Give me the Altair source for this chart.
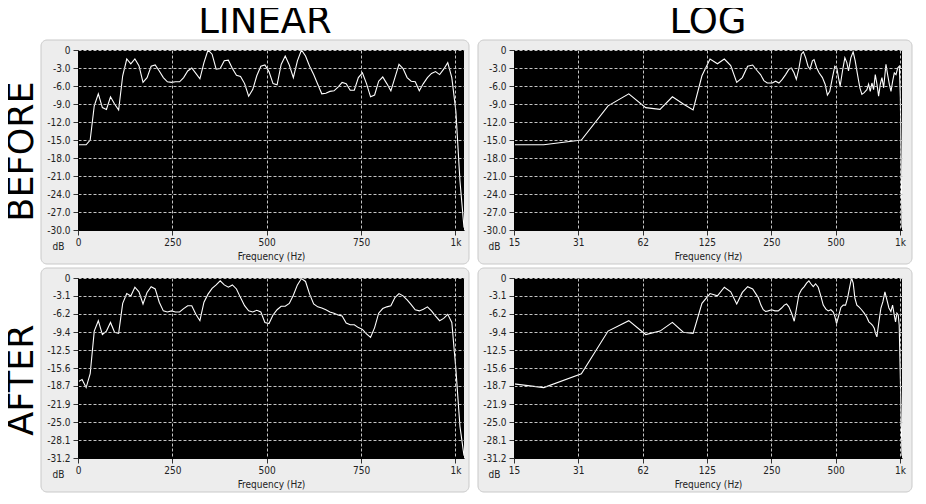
import altair as alt
import pandas as pd

# FFT bin centre frequencies (Hz)
freq_hz = [0, 10.77, 21.53, 32.30, 43.07, 53.83, 64.60, 75.37, 86.13, 96.90,
           107.67, 118.43, 129.20, 139.97, 150.73, 161.50, 172.27, 183.03, 193.80, 204.57,
           215.33, 226.10, 236.87, 247.63, 258.40, 269.17, 279.93, 290.70, 301.47, 312.23,
           323.00, 333.77, 344.53, 355.30, 366.07, 376.83, 387.60, 398.37, 409.13, 419.90,
           430.67, 441.43, 452.20, 462.97, 473.73, 484.50, 495.27, 506.03, 516.80, 527.57,
           538.33, 549.10, 559.87, 570.63, 581.40, 592.17, 602.93, 613.70, 624.47, 635.23,
           646.00, 656.77, 667.53, 678.30, 689.07, 699.83, 710.60, 721.37, 732.13, 742.90,
           753.67, 764.43, 775.20, 785.97, 796.73, 807.50, 818.27, 829.03, 839.80, 850.57,
           861.33, 872.10, 882.87, 893.63, 904.40, 915.17, 925.93, 936.70, 947.47, 958.23,
           969.00, 979.77, 990.53, 1001.30, 1012.07, 1022.83]

before_db = [-15.8, -15.8, -15.8, -15.0, -9.3, -7.3, -9.6, -9.9, -7.8, -9.0,
             -10.0, -4.3, -1.5, -2.3, -1.5, -2.6, -5.4, -4.6, -2.7, -2.5,
             -3.5, -4.6, -5.3, -5.4, -5.3, -5.3, -4.6, -3.5, -3.0, -3.9,
             -4.8, -2.1, 0.0, -0.7, -3.2, -3.1, -1.8, -1.7, -3.1, -4.2,
             -4.4, -5.6, -7.7, -6.6, -4.3, -2.7, -2.5, -3.6, -5.6, -5.8,
             -2.4, -1.0, -2.5, -4.6, -1.8, 0.0, -1.0, -2.7, -4.1, -5.7,
             -7.3, -7.2, -6.9, -6.8, -6.2, -5.4, -5.6, -6.7, -6.7, -4.6,
             -3.8, -5.6, -7.8, -7.5, -5.2, -4.5, -5.6, -6.8, -4.6, -2.4,
             -3.1, -4.6, -5.2, -5.3, -6.8, -5.6, -4.6, -3.9, -3.6, -4.1,
             -3.2, -2.1, -4.6, -10.2, -21.8, -29.6]

after_db = [-18.0, -17.6, -19.0, -16.6, -9.2, -7.4, -9.8, -9.2, -7.7, -9.4,
            -9.6, -4.4, -2.7, -3.1, -1.6, -2.4, -4.5, -2.5, -1.5, -1.9,
            -4.2, -5.7, -5.9, -5.7, -5.9, -5.9, -5.3, -4.8, -4.8, -6.3,
            -7.4, -4.2, -2.8, -1.8, -1.2, -0.5, -1.2, -1.6, -1.2, -1.9,
            -3.4, -4.8, -5.7, -5.9, -5.6, -5.9, -7.7, -7.9, -6.4, -5.5,
            -4.9, -4.9, -4.4, -3.0, -1.2, -0.1, -0.6, -2.8, -4.5, -5.0,
            -5.2, -5.5, -5.9, -6.1, -6.4, -6.6, -7.8, -8.1, -8.1, -8.6,
            -8.9, -9.7, -10.3, -8.6, -6.1, -5.3, -5.0, -4.8, -3.4, -2.7,
            -3.1, -3.8, -4.6, -5.5, -5.7, -5.4, -5.0, -5.7, -6.6, -7.4,
            -7.0, -6.3, -7.7, -15.8, -25.7, -30.8]

# finer-resolution trace shown in the LOG panels above ~220 Hz
log_hi_freq_before = [222.7, 230.8, 239.4, 252.7, 261.9, 271.5, 281.4, 291.8, 302.5, 310.3,
                      319.4, 327.5, 337.0, 345.8, 353.3, 362.3, 371.4, 379.7, 389.4, 396.4,
                      408.0, 418.4, 433.8, 446.6, 457.8, 469.7, 483.3, 495.8, 506.6, 515.8,
                      525.2, 538.6, 552.5, 564.5, 574.7, 589.2, 604.2, 617.7, 633.3, 649.7,
                      663.9, 680.6, 700.6, 713.4, 726.4, 739.7, 753.1, 766.9, 780.8, 795.0,
                      809.5, 824.2, 839.2, 860.5, 876.1, 892.0, 908.3, 924.8, 941.6, 958.8,
                      976.1, 993.9, 1004.8, 1022.83]
log_hi_db_before = [-4.1, -5.1, -5.5, -5.5, -5.2, -5.5, -4.9, -4.1, -3.2, -3.0,
                    -3.8, -4.9, -3.0, -0.7, -0.3, -1.3, -2.7, -3.2, -1.8, -1.6,
                    -3.0, -3.8, -4.6, -5.7, -7.5, -6.9, -4.6, -2.7, -3.0, -4.6,
                    -6.0, -3.5, -1.3, -2.1, -3.5, -1.3, -0.3, -1.8, -4.1, -6.3,
                    -7.4, -7.1, -6.6, -5.7, -6.9, -5.5, -6.6, -4.1, -5.7, -7.7,
                    -5.7, -4.6, -6.3, -2.4, -4.1, -5.7, -6.9, -5.2, -3.8, -4.1,
                    -3.0, -2.7, -7.9, -29.6]
log_hi_freq_after = [217.3, 223.6, 229.3, 235.2, 242.0, 250.8, 260.0, 269.5, 279.4, 287.5,
                     294.8, 302.3, 311.2, 320.2, 328.3, 336.7, 346.5, 356.7, 365.8, 375.0,
                     383.2, 393.0, 403.0, 414.7, 426.9, 437.7, 450.5, 462.0, 475.3, 487.7,
                     496.4, 505.2, 518.3, 529.5, 542.9, 556.7, 568.8, 581.1, 593.8, 604.5,
                     615.6, 628.9, 642.8, 661.6, 680.6, 698.3, 715.9, 731.6, 744.8, 758.4,
                     769.1, 780.3, 797.3, 815.0, 832.7, 850.8, 869.4, 888.3, 907.5, 924.1,
                     940.8, 954.1, 968.0, 982.0, 992.5, 1022.83]
log_hi_db_after = [-3.4, -4.7, -5.5, -5.8, -5.7, -5.5, -5.7, -5.7, -5.2, -4.7,
                   -4.5, -5.0, -6.1, -7.5, -5.2, -2.9, -2.0, -1.5, -0.9, -0.5,
                   -1.0, -1.5, -1.0, -1.6, -3.2, -4.7, -5.4, -5.7, -5.5, -5.9,
                   -6.7, -7.9, -6.4, -5.1, -4.7, -4.7, -3.5, -1.7, 0.0, -0.9,
                   -3.5, -4.7, -5.0, -5.5, -6.1, -6.7, -7.6, -7.9, -8.2, -8.7,
                   -9.6, -10.2, -7.6, -5.2, -4.1, -2.4, -3.8, -5.2, -5.8, -4.7,
                   -6.4, -7.6, -6.1, -6.4, -8.2, -30.8]

lin_ticks = [0, 250, 500, 750, 1000]
log_ticks = [15.625, 31.25, 62.5, 125, 250, 500, 1000]
before_yticks = [0, -3, -6, -9, -12, -15, -18, -21, -24, -27, -30]
after_yticks = [0, -3.1, -6.2, -9.4, -12.5, -15.6, -18.7, -21.9, -25.0, -28.1, -31.2]

column_titles = ["LINEAR", "LOG"]
row_titles = ["BEFORE", "AFTER"]

FONT = "DejaVu Sans Condensed, DejaVu Sans"
BIG = "DejaVu Sans"
W_LIN, W_LOG, H = 386, 388, 180
FMIN_LOG, FMAX = 15.625, 1022.83


def log_frame(db, hi_f, hi_db):
    lo = pd.DataFrame({"f": freq_hz, "db": db})
    lo = lo[(lo["f"] > 0) & (lo["f"] < hi_f[0] - 5)]
    hi = pd.DataFrame({"f": hi_f, "db": hi_db})
    return pd.concat([lo, hi], ignore_index=True)


def panel(df, yticks, ymin, log, title=None, title_dx=0):
    if log:
        xscale = alt.Scale(type="log", domain=[FMIN_LOG, FMAX], nice=False)
        xvals = log_ticks
        xexpr = "datum.value >= 1000 ? '1k' : '' + floor(datum.value)"
        w = W_LOG
        fl, fr = -36, 10
    else:
        xscale = alt.Scale(domain=[0, FMAX], nice=False)
        xvals = lin_ticks
        xexpr = "datum.value >= 1000 ? '1k' : datum.label"
        w = W_LIN
        fl, fr = -37, 5
    yscale = alt.Scale(domain=[ymin, 0], nice=False, zero=False)
    common = dict(grid=True, gridColor="#c4c4c4", gridDash=[3, 2], gridWidth=1,
                  domain=True, domainColor="#000000", tickColor="#333333",
                  tickSize=5, labelFont=FONT, labelFontSize=10, labelColor="#222222",
                  titleFont=FONT, titleFontSize=10, titleFontWeight="normal",
                  titleColor="#222222", zindex=1)
    xaxis = alt.Axis(values=xvals, labelExpr=xexpr, title="Frequency (Hz)",
                     labelPadding=2, titlePadding=4, labelFlush=False, **common)
    yaxis = alt.Axis(values=yticks,
                     labelExpr="datum.value == 0 ? '0' : replace(format(datum.value, '.1f'), '\u2212', '-')",
                     title="dB", titleAngle=0, titleX=-20, titleY=H + 16,
                     titleAlign="center", titleBaseline="middle",
                     labelPadding=3, **common)

    one = alt.Chart(pd.DataFrame({"p": [0]}))
    frame = one.mark_rect(fill="#ededed", stroke="#c9c9c9", strokeWidth=1,
                          cornerRadius=6).encode(
        x=alt.value(fl), x2=alt.value(w + fr), y=alt.value(-10), y2=alt.value(H + 34))
    plot_bg = one.mark_rect(fill="#000000").encode(
        x=alt.value(0), x2=alt.value(w), y=alt.value(0), y2=alt.value(H))
    line = alt.Chart(df).mark_line(color="#ffffff", strokeWidth=1.1, clip=True).encode(
        x=alt.X("f:Q", scale=xscale, axis=xaxis),
        y=alt.Y("db:Q", scale=yscale, axis=yaxis),
        order=alt.Order("f:Q"),
    )
    ch = alt.layer(frame, plot_bg, line).properties(width=w, height=H)
    if title:
        ch = ch.properties(title=alt.TitleParams(
            title, orient="top", anchor="middle", frame="group", font=BIG,
            fontSize=37, fontWeight="normal", color="#000000",
            baseline="alphabetic", offset=-30, dx=title_dx))
    return ch


lin_before = pd.DataFrame({"f": freq_hz, "db": before_db})
lin_after = pd.DataFrame({"f": freq_hz, "db": after_db})
lg_before = log_frame(before_db, log_hi_freq_before, log_hi_db_before)
lg_after = log_frame(after_db, log_hi_freq_after, log_hi_db_after)

tl = panel(lin_before, before_yticks, -30, False, column_titles[0], -6)
tr = panel(lg_before, before_yticks, -30, True, column_titles[1], 0)
bl = panel(lin_after, after_yticks, -31.2, False)
br = panel(lg_after, after_yticks, -31.2, True)


def row_title(t, dx):
    return alt.TitleParams(t, orient="left", anchor="middle", font=BIG, fontSize=35,
                           fontWeight="normal", color="#000000",
                           baseline="alphabetic", offset=-27, dx=dx)


row1 = alt.hconcat(tl, tr, spacing=7).properties(title=row_title(row_titles[0], -18))
row2 = alt.hconcat(bl, br, spacing=7).properties(title=row_title(row_titles[1], 0))

chart = alt.vconcat(row1, row2, spacing=2).properties(
    background="#ffffff",
    padding={"left": -4, "top": -6, "right": 0, "bottom": 0},
).configure_view(stroke=None)

chart.save("out.html", embed_options={"renderer": "svg", "actions": False})
